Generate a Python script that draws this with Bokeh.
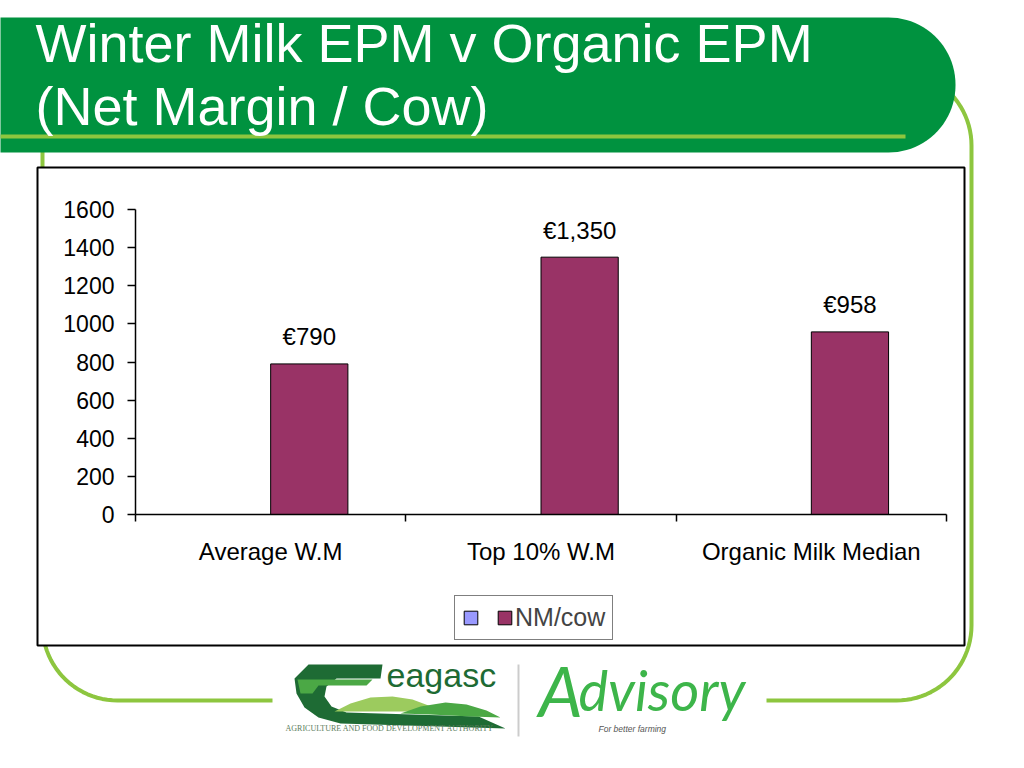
import numpy as np
from bokeh.plotting import figure
from bokeh.models import (Range1d, FixedTicker, ColumnDataSource, Label, Legend,
                          LegendItem, LinearAxis)
from bokeh.core.properties import value
from bokeh.embed import file_html
from bokeh.resources import INLINE

# ---------------- data ----------------
title_lines = ["Winter Milk EPM v Organic EPM", "(Net Margin / Cow)"]
categories = ["Average W.M", "Top 10% W.M", "Organic Milk Median"]
series_names = [" ", "NM/cow"]
nm_per_cow = [790, 1350, 958]
blank_series = [np.nan, np.nan, np.nan]   # first series has no values (legend only)
y_ticks = [0, 200, 400, 600, 800, 1000, 1200, 1400, 1600]

# ---------------- style ----------------
FONT = "Liberation Sans"
W, H = 1008, 752
DARK_GREEN = "#00923F"
LIGHT_GREEN = "#8DC63F"
BAR_COLOR = "#993366"
BLANK_COLOR = "#9999FF"

n = len(categories)
y_max = y_ticks[-1]

# plot area of the chart on the page (pixels from top-left)
PL, PR, PT, PB = 135, 946, 209, 514


def span_range(d0, d1, p0, p1, total):
    """Range whose [d0, d1] falls on pixels [p0, p1] of a frame of size total."""
    k = (p1 - p0) / (d1 - d0)
    return Range1d(d0 - p0 / k, d1 + (total - p1) / k)


def base_y(baseline, size):
    """Label y that puts the text baseline at the given page pixel."""
    return baseline - 0.41 * size


p = figure(width=W, height=H, output_backend="svg", toolbar_location=None,
           x_axis_location=None, y_axis_location=None, min_border=0,
           x_range=span_range(0, n, PL, PR, W),
           y_range=span_range(0, y_max, H - PB, H - PT, H))
p.grid.visible = False
p.outline_line_color = None
p.background_fill_color = "white"
p.border_fill_color = "white"
p.extra_x_ranges = {"px": Range1d(0, W)}
p.extra_y_ranges = {"py": Range1d(H, 0)}
PX = dict(x_range_name="px", y_range_name="py")


def rounded_path(l, r, t, b, radii, k=24):
    tl, tr, br, bl = radii
    xs, ys = [], []
    for (cx, cy, rad, a0, a1) in [(r - tr, t + tr, tr, -90, 0), (r - br, b - br, br, 0, 90),
                                   (l + bl, b - bl, bl, 90, 180), (l + tl, t + tl, tl, 180, 270)]:
        a = np.radians(np.linspace(a0, a1, k))
        xs.extend(cx + rad * np.cos(a))
        ys.extend(cy + rad * np.sin(a))
    return xs, ys


# ---------------- slide decorations ----------------
ox, oy = rounded_path(42, 971, 70, 700, (75, 75, 75, 75))
p.line(ox + ox[:1], oy + oy[:1], line_color=LIGHT_GREEN, line_width=4, **PX)
bx, by = rounded_path(-5, 955, 17, 152, (0, 67, 67, 0))
p.patch(bx, by, fill_color=DARK_GREEN, line_color=None, **PX)
p.quad(left=-5, right=905, top=134, bottom=138, fill_color=LIGHT_GREEN, line_color=None, **PX)
p.quad(left=37, right=964, top=167, bottom=645, fill_color="white", line_color="black",
       line_width=2, **PX)
p.quad(left=272, right=766, top=655, bottom=745, fill_color="white", line_color=None, **PX)

for line, base in zip(title_lines, [65, 128]):
    p.add_layout(Label(x=35, y=base_y(base, 54), text=line, text_font=FONT,
                       text_font_size="54px", text_color="white",
                       text_baseline="alphabetic", **PX))

# ---------------- bars ----------------
bar_w = 1 / 3.5
idx = np.arange(n)
src = ColumnDataSource(dict(x=idx + 0.5 + bar_w / 2, top=nm_per_cow,
                            label=[f"€{v:,}" for v in nm_per_cow]))
blank_src = ColumnDataSource(dict(x=idx + 0.5 - bar_w / 2, top=blank_series))
r_blank = p.vbar(x="x", top="top", width=bar_w, source=blank_src, fill_color=BLANK_COLOR,
                 line_color="black", line_width=1)
r_nm = p.vbar(x="x", top="top", width=bar_w, source=src, fill_color=BAR_COLOR,
              line_color="black", line_width=1)
p.text(x="x", y="top", text="label", source=src, text_align="center",
       text_baseline="alphabetic", y_offset=-27, text_font=value(FONT),
       text_font_size="24px", text_color="black")

# ---------------- axes ----------------
yaxis = LinearAxis(fixed_location=0, bounds=(0, y_max), ticker=FixedTicker(ticks=y_ticks),
                   major_tick_out=8, major_tick_in=0, minor_tick_out=0, minor_tick_in=0,
                   major_label_standoff=13, major_label_text_font_size="23px")
xaxis = LinearAxis(fixed_location=0, bounds=(0, n),
                   ticker=FixedTicker(ticks=list(idx + 0.5), minor_ticks=list(range(n + 1))),
                   major_label_overrides={float(i) + 0.5: cat for i, cat in enumerate(categories)},
                   major_tick_out=0, major_tick_in=0, minor_tick_out=7, minor_tick_in=0,
                   minor_tick_line_color="black", minor_tick_line_width=1.5,
                   major_label_standoff=16, major_label_text_font_size="24px")
for ax in (xaxis, yaxis):
    ax.axis_line_color = "black"
    ax.axis_line_width = 1.5
    ax.major_tick_line_color = "black"
    ax.major_tick_line_width = 1.5
    ax.major_label_text_font = FONT
    ax.major_label_text_color = "black"
p.add_layout(yaxis, "left")
p.add_layout(xaxis, "below")

# ---------------- legend ----------------
legend = Legend(items=[LegendItem(label=value(series_names[0]), renderers=[r_blank]),
                       LegendItem(label=value(series_names[1]), renderers=[r_nm])],
                location=(454, H - 640), orientation="horizontal",
                border_line_color="black", border_line_width=1,
                background_fill_color="white", background_fill_alpha=1,
                padding=7, spacing=9, margin=0, glyph_width=17, glyph_height=17,
                label_standoff=2, label_width=6, label_height=20,
                label_text_font=FONT, label_text_font_size="25px")
p.add_layout(legend, "center")

# ---------------- logo ----------------
LOGO_DARK = "#1E6B34"
LOGO_MID = "#4BA845"
LOGO_LIGHT = "#9CCB5E"
logo_shapes = [
    ([382, 308, 294, 296, 304, 318, 340, 505, 478, 346, 331, 324, 326, 336, 380],
     [664, 664, 678, 693, 707, 717, 723, 728, 716, 712, 706, 696, 686, 678, 678], LOGO_DARK),
    ([297, 372, 366, 318, 312, 300], [679, 679, 685, 685, 693, 693], LOGO_MID),
    ([334, 350, 370, 392, 412, 428, 438], [711, 703, 697, 696, 699, 705, 711], LOGO_LIGHT),
    ([400, 420, 445, 466, 486, 500, 470, 430], [713, 706, 702, 704, 710, 717, 716, 714], LOGO_MID),
]
for xs, ys, col in logo_shapes:
    p.patch(xs, ys, fill_color=col, line_color=None, **PX)
p.quad(left=517, right=519, top=664, bottom=736, fill_color="#cccccc", line_color=None, **PX)

logo_texts = [
    (386, 688, "eagasc", FONT, "normal", 34, LOGO_DARK),
    (285, 731, "AGRICULTURE AND FOOD DEVELOPMENT AUTHORITY", "Liberation Serif", "normal",
     8, "#5d7d5d"),
    (538, 718, "A", "Lato", "italic", 70, "#3DB54A"),
    (578, 712, "dvisory", "Lato", "italic", 56, "#3DB54A"),
    (598, 732, "For better farming", FONT, "italic", 8.5, "#555555"),
]
for x, y, t, f, st, sz, col in logo_texts:
    p.add_layout(Label(x=x, y=base_y(y, sz), text=t, text_font=f, text_font_style=st,
                       text_font_size=f"{sz}px", text_color=col,
                       text_baseline="alphabetic", **PX))

open("out.html", "w").write(file_html(p, INLINE))
